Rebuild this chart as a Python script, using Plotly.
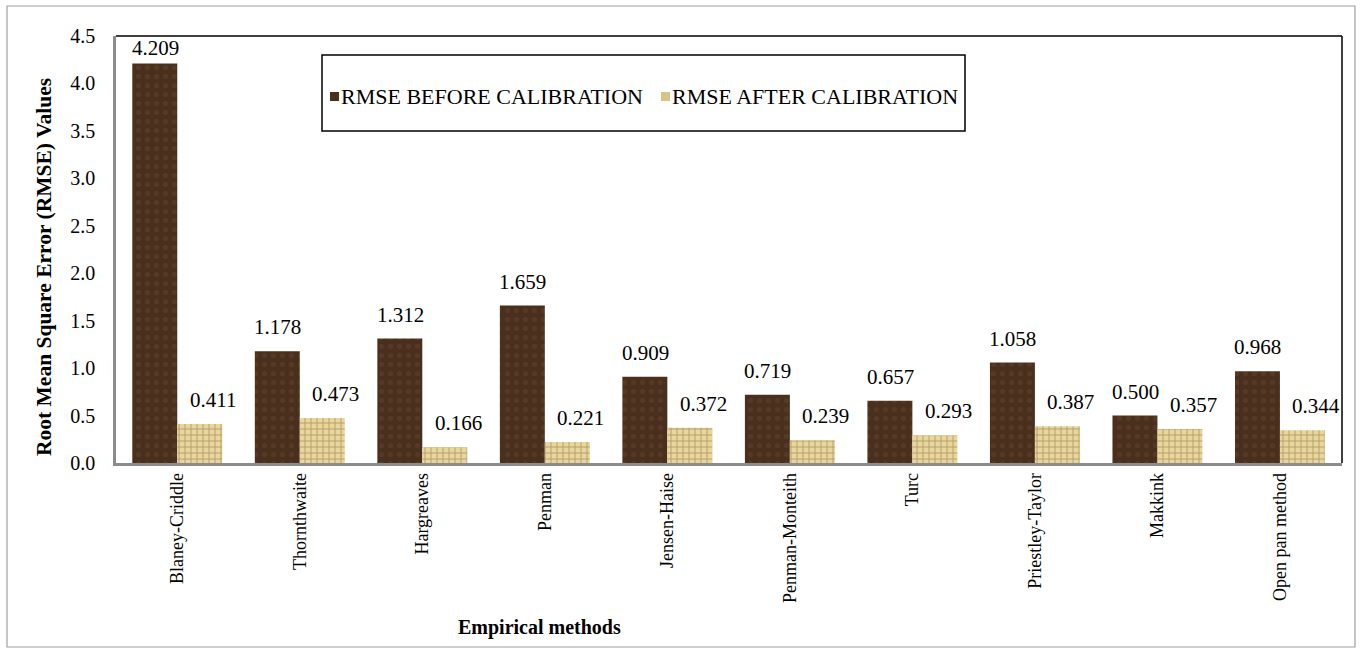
import plotly.graph_objects as go

methods = ["Blaney-Criddle", "Thornthwaite", "Hargreaves", "Penman", "Jensen-Haise",
           "Penman-Monteith", "Turc", "Priestley-Taylor", "Makkink", "Open pan method"]
rmse_before = [4.209, 1.178, 1.312, 1.659, 0.909, 0.719, 0.657, 1.058, 0.500, 0.968]
rmse_after = [0.411, 0.473, 0.166, 0.221, 0.372, 0.239, 0.293, 0.387, 0.357, 0.344]
series_names = ["RMSE BEFORE CALIBRATION", "RMSE AFTER CALIBRATION"]
y_ticks = [0.0, 0.5, 1.0, 1.5, 2.0, 2.5, 3.0, 3.5, 4.0, 4.5]

W, H = 1361, 657
L, R, T, B = 116, 19, 36, 194
PW, PH = W - L - R, H - T - B
YMAX = 4.5
FONT = "Liberation Serif"

def px(x):  # pixel -> paper x
    return (x - L) / PW

def py(y):  # pixel -> paper y
    return (H - B - y) / PH

fig = go.Figure()
fig.add_trace(go.Bar(
    x=methods, y=rmse_before, name=series_names[0], showlegend=False,
    marker=dict(color="#4b2f1d", line=dict(width=0),
                pattern=dict(shape=".", fgcolor="#604330", size=9, solidity=0.25))))
fig.add_trace(go.Bar(
    x=methods, y=rmse_after, name=series_names[1], showlegend=False,
    marker=dict(color="#e8d69c", line=dict(width=0),
                pattern=dict(shape="+", fgcolor="#806838", size=6, solidity=0.3))))

# value labels above each bar (kept inside the plot frame)
annos = []
for ti, vals in enumerate([rmse_before, rmse_after]):
    off = -0.18 if ti == 0 else 0.18
    xs = 0 if ti == 0 else 14
    for i, v in enumerate(vals):
        top_px = v / YMAX * PH
        shift = min(10, PH - top_px - 26)
        annos.append(dict(x=i + off, y=v, xref="x", yref="y", text=f"{v:.3f}",
                          showarrow=False, yanchor="bottom", yshift=shift, xshift=xs,
                          font=dict(family=FONT, size=21, color="#000")))

# axis titles
annos.append(dict(x=px(539), y=py(641), xref="paper", yref="paper",
                  text="<b>Empirical methods</b>", showarrow=False,
                  font=dict(family=FONT, size=20, color="#000")))
annos.append(dict(x=px(30), y=py(267), xref="paper", yref="paper", textangle=-90,
                  text="<b>Root Mean Square Error (RMSE) Values</b>", showarrow=False,
                  font=dict(family=FONT, size=21.5, color="#000")))

# legend entries
legend_items = [(330, "#4b2f1d", series_names[0]), (661, "#d9c385", series_names[1])]
shapes = []
for x0, col, name in legend_items:
    shapes.append(dict(type="rect", xref="paper", yref="paper",
                       x0=px(x0), x1=px(x0 + 9), y0=py(101), y1=py(92),
                       fillcolor=col, line=dict(width=0)))
    annos.append(dict(x=px(x0 + 9), y=py(96), xref="paper", yref="paper",
                      text=name, showarrow=False, xanchor="left", yanchor="middle",
                      font=dict(family=FONT, size=22, color="#000")))

# legend box
shapes.append(dict(type="rect", xref="paper", yref="paper",
                   x0=px(322), x1=px(965), y0=py(131), y1=py(55),
                   line=dict(color="#000", width=1.5), fillcolor="rgba(0,0,0,0)"))
# plot frame: black top/right, grey left/bottom
shapes.append(dict(type="line", xref="paper", yref="paper", x0=0, x1=1, y0=1, y1=1,
                   line=dict(color="#000", width=1.5)))
shapes.append(dict(type="line", xref="paper", yref="paper", x0=1, x1=1, y0=0, y1=1,
                   line=dict(color="#000", width=1.5)))
# outer chart border
shapes.append(dict(type="rect", xref="paper", yref="paper",
                   x0=px(7), x1=px(1355), y0=py(647), y1=py(6),
                   line=dict(color="#a0a0a0", width=1.2), fillcolor="rgba(0,0,0,0)"))

fig.update_layout(
    width=W, height=H, margin=dict(l=L, r=R, t=T, b=B),
    paper_bgcolor="white", plot_bgcolor="white",
    barmode="group", bargap=0.266, bargroupgap=0,
    annotations=annos, shapes=shapes,
    font=dict(family=FONT, color="#000"),
    xaxis=dict(showline=True, linecolor="#8c8c8c", linewidth=2.5, ticks="",
               tickangle=-90, tickfont=dict(family=FONT, size=18, color="#000"),
               showgrid=False, zeroline=False, mirror=False),
    yaxis=dict(range=[0, YMAX], tickvals=y_ticks, tickformat=".1f",
               showline=True, linecolor="#8c8c8c", linewidth=2.5, ticks="",
               ticklabelstandoff=14, tickfont=dict(family=FONT, size=20, color="#000"),
               showgrid=False, zeroline=False),
)

fig.write_html("out.html")
